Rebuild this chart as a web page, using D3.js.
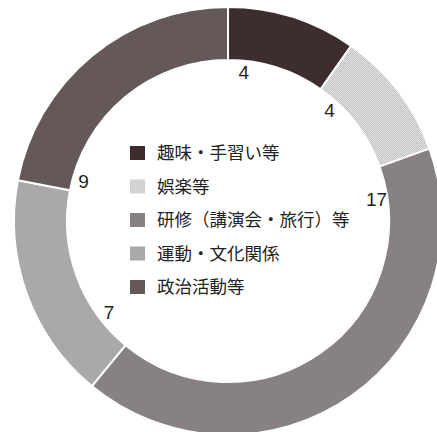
<!DOCTYPE html>
<html>
<head>
<meta charset="utf-8">
<script src="https://cdn.jsdelivr.net/npm/d3@7"></script>
<style>
  body { margin: 0; background: #fff; }
  svg { display: block; }
</style>
</head>
<body>
<div id="chart"></div>
<script>
// categories and values, clockwise from 12 o'clock
var categories = ['趣味・手習い等', '娯楽等', '研修（講演会・旅行）等', '運動・文化関係', '政治活動等'];
var values = [4, 4, 17, 7, 9];
var colors = ['#3e2d2f', 'url(#dots)', '#878182', '#aaa8a8', '#645859'];
var legendColors = ['#3e2d2f', 'url(#dots)', '#878182', '#aaa8a8', '#645859'];
// small nudge (degrees) of each number label past the start of its slice
var labelNudge = [6, 7.5, 11.5, 13, 4.5];

var width = 437, height = 432;
var cx = 228, cy = 221, outerR = 214, innerR = 161;

var svg = d3.select('#chart')
  .append('svg')
  .attr('width', width)
  .attr('height', height);

// halftone look for the light slice
var defs = svg.append('defs');
var pat = defs.append('pattern')
  .attr('id', 'dots')
  .attr('width', 2).attr('height', 2)
  .attr('patternUnits', 'userSpaceOnUse');
pat.append('rect').attr('width', 2).attr('height', 2).attr('fill', '#e2e2e2');
pat.append('rect').attr('width', 1).attr('height', 1).attr('fill', '#bcbcbc');
pat.append('rect').attr('x', 1).attr('y', 1).attr('width', 1).attr('height', 1).attr('fill', '#c8c8c8');

var data = categories.map((c, i) => ({name: c, value: values[i], i: i}));

var pie = d3.pie()
  .value(d => d.value)
  .sort(null);

var arc = d3.arc()
  .innerRadius(innerR)
  .outerRadius(outerR);

var g = svg.append('g')
  .attr('transform', 'translate(' + cx + ',' + cy + ')');

var arcs = pie(data);

g.selectAll('path.slice')
  .data(arcs)
  .enter()
  .append('path')
  .attr('class', 'slice')
  .attr('d', arc)
  .attr('fill', d => colors[d.data.i])
  .attr('stroke', '#fff')
  .attr('stroke-width', 2);

// value labels just inside the ring, near each slice start
g.selectAll('text.val')
  .data(arcs)
  .enter()
  .append('text')
  .attr('class', 'val')
  .attr('x', d => Math.sin(d.startAngle + labelNudge[d.data.i] * Math.PI / 180) * 150)
  .attr('y', d => -Math.cos(d.startAngle + labelNudge[d.data.i] * Math.PI / 180) * 150)
  .attr('text-anchor', 'middle')
  .attr('dy', '0.36em')
  .style('font-family', '"Liberation Sans", Arial, sans-serif')
  .style('font-size', '19px')
  .style('fill', '#1e1e1e')
  .text(d => d.value);

// Legend
var legend = svg.append('g')
  .attr('transform', 'translate(130,153)');

var rows = legend.selectAll('g.row')
  .data(data)
  .enter()
  .append('g')
  .attr('class', 'row')
  .attr('transform', d => 'translate(0,' + d.i * 33.5 + ')');

rows.append('rect')
  .attr('x', 0)
  .attr('y', -7)
  .attr('width', 15)
  .attr('height', 14)
  .attr('fill', d => legendColors[d.i]);

rows.append('text')
  .attr('x', 27)
  .attr('dy', '0.36em')
  .style('font-family', '"Noto Sans CJK JP", sans-serif')
  .style('font-size', '17.5px')
  .style('fill', '#222')
  .text(d => d.name);
</script>
</body>
</html>
